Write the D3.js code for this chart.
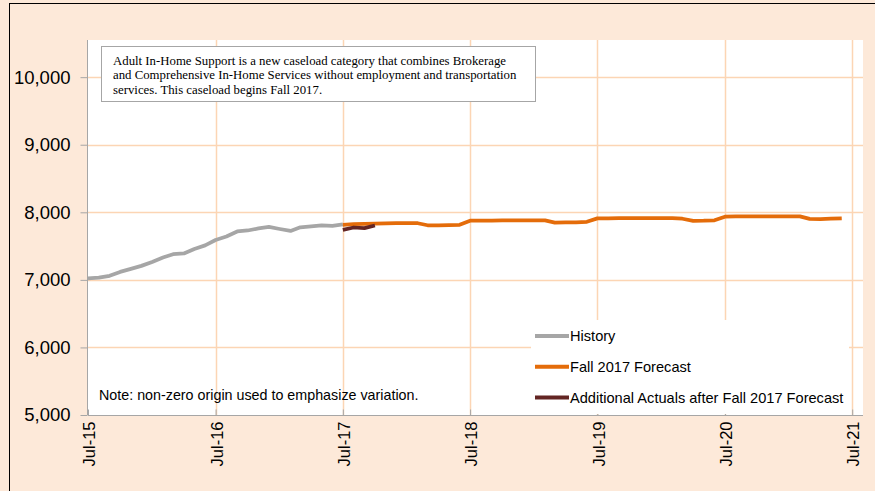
<!DOCTYPE html>
<html>
<head>
<meta charset="utf-8">
<script src="https://cdnjs.cloudflare.com/ajax/libs/d3/7.8.5/d3.min.js"></script>
<style>
  body { margin: 0; background: #fde9d9; }
  svg { display: block; }
</style>
</head>
<body>
<div id="chart"></div>
<script>
// monthly caseload values
var historyStart = new Date(2015, 6, 1);
var historyValues = [7022, 7032, 7060, 7118, 7162, 7207, 7266, 7332, 7380, 7391, 7458, 7510,
  7590, 7642, 7716, 7731, 7761, 7783, 7753, 7724, 7778, 7790, 7805, 7798, 7820];

var forecastStart = new Date(2017, 6, 1);
var forecastValues = [
  7815, 7825, 7830, 7832, 7835, 7838, 7840, 7838, 7808, 7808, 7810, 7815,
  7875, 7878, 7878, 7880, 7880, 7882, 7882, 7880, 7848, 7850, 7852, 7860,
  7910, 7910, 7912, 7912, 7914, 7914, 7914, 7914, 7905, 7872, 7875, 7882,
  7935, 7938, 7938, 7940, 7940, 7940, 7940, 7940, 7902, 7900, 7905, 7910];

var actualsStart = new Date(2017, 6, 1);
var actualsValues = [7740, 7775, 7765, 7805];

var yTicks = [5000, 6000, 7000, 8000, 9000, 10000];
var xTickYears = [2015, 2016, 2017, 2018, 2019, 2020, 2021];

var seriesNames = ["History", "Fall 2017 Forecast", "Additional Actuals after Fall 2017 Forecast"];
var seriesColors = ["#a6a6a6", "#e46c0a", "#632523"];

var noteLines = [
  "Adult In-Home Support is a new caseload category that combines Brokerage",
  "and Comprehensive In-Home Services without employment and transportation",
  "services. This caseload begins Fall 2017."
];
var originNote = "Note: non-zero origin used to emphasize variation.";

var width = 875, height = 491;
var sans = "'Liberation Sans', Arial, sans-serif";

function toPoints(start, values) {
  return values.map(function (v, i) {
    return { date: new Date(start.getFullYear(), start.getMonth() + i, 1), value: v };
  });
}

var svg = d3.select("#chart").append("svg")
  .attr("width", width)
  .attr("height", height);

// outer frame
svg.append("rect")
  .attr("x", 9.5).attr("y", 3.5)
  .attr("width", 900).attr("height", 520)
  .attr("fill", "#fde9d9")
  .attr("stroke", "#000").attr("stroke-width", 1);

var x = d3.scaleTime()
  .domain([new Date(2015, 6, 1), new Date(2021, 7, 1)])
  .range([88, 863]);

var y = d3.scaleLinear()
  .domain([5000, 10550])
  .range([415, 40]);

// plot area
svg.append("rect")
  .attr("x", x.range()[0] - 1)
  .attr("y", y.range()[1])
  .attr("width", x.range()[1] - x.range()[0] + 1)
  .attr("height", y.range()[0] - y.range()[1])
  .attr("fill", "#fff");

var gridColor = "#fcd5b4";

// gridlines
svg.append("g").selectAll("line")
  .data(yTicks.slice(1))
  .enter().append("line")
  .attr("x1", x.range()[0]).attr("x2", x.range()[1])
  .attr("y1", function (d) { return Math.round(y(d)) + 0.5; })
  .attr("y2", function (d) { return Math.round(y(d)) + 0.5; })
  .attr("stroke", gridColor).attr("stroke-width", 1.5);

svg.append("g").selectAll("line")
  .data(xTickYears.slice(1))
  .enter().append("line")
  .attr("x1", function (d) { return Math.round(x(new Date(d, 6, 1))) + 0.5; })
  .attr("x2", function (d) { return Math.round(x(new Date(d, 6, 1))) + 0.5; })
  .attr("y1", y.range()[1]).attr("y2", y.range()[0])
  .attr("stroke", gridColor).attr("stroke-width", 1.5);

// y axis
var yAxis = svg.append("g")
  .attr("transform", "translate(" + (x.range()[0] - 0.5) + ",0)")
  .call(d3.axisLeft(y).tickValues(yTicks).tickSize(7).tickPadding(10).tickFormat(d3.format(",")));
yAxis.select(".domain").attr("stroke", "#a6a6a6").attr("d", "M0," + y.range()[1] + "V" + y.range()[0]);
yAxis.selectAll(".tick line").attr("stroke", "#a6a6a6");
yAxis.selectAll(".tick text")
  .attr("fill", "#000")
  .style("font-family", sans)
  .style("font-size", "18.5px");

// x axis
var xAxis = svg.append("g")
  .attr("transform", "translate(0," + (y.range()[0] + 0.5) + ")")
  .call(d3.axisBottom(x)
    .tickValues(xTickYears.map(function (yr) { return new Date(yr, 6, 1); }))
    .tickSize(-6)
    .tickFormat(d3.timeFormat("%b-%y")));
xAxis.select(".domain").attr("stroke", "#a6a6a6").attr("d", "M" + x.range()[0] + ",0H" + x.range()[1]);
xAxis.selectAll(".tick line").attr("stroke", "#a6a6a6");
xAxis.selectAll(".tick text")
  .attr("fill", "#000")
  .attr("text-anchor", "end")
  .attr("y", 0).attr("dy", "0.35em")
  .attr("transform", "translate(1,6) rotate(-90)")
  .style("font-family", sans)
  .style("font-size", "16.5px");

// legend background covering gridlines
svg.append("rect")
  .attr("x", 531).attr("y", 320)
  .attr("width", 318).attr("height", y.range()[0] - 320 - 1)
  .attr("fill", "#fff");

// lines
var line = d3.line()
  .x(function (d) { return x(d.date); })
  .y(function (d) { return y(d.value); });

var series = [
  toPoints(historyStart, historyValues),
  toPoints(forecastStart, forecastValues),
  toPoints(actualsStart, actualsValues)
];

svg.append("g").selectAll("path")
  .data(series)
  .enter().append("path")
  .attr("d", line)
  .attr("fill", "none")
  .attr("stroke", function (d, i) { return seriesColors[i]; })
  .attr("stroke-width", 3.75)
  .attr("stroke-linejoin", "round");

// legend
var legend = svg.append("g").selectAll("g")
  .data(seriesNames)
  .enter().append("g")
  .attr("transform", function (d, i) { return "translate(535," + (336 + i * 30.7) + ")"; });

legend.append("line")
  .attr("x1", 0).attr("x2", 34)
  .attr("stroke", function (d, i) { return seriesColors[i]; })
  .attr("stroke-width", 4);

legend.append("text")
  .attr("x", 35).attr("dy", "0.35em")
  .style("font-family", sans)
  .style("font-size", "14.6px")
  .text(function (d) { return d; });

// note box at top
svg.append("rect")
  .attr("x", 101.5).attr("y", 46.5)
  .attr("width", 434).attr("height", 55)
  .attr("fill", "#fff")
  .attr("stroke", "#a6a6a6");

svg.append("g").selectAll("text")
  .data(noteLines)
  .enter().append("text")
  .attr("x", 113)
  .attr("y", function (d, i) { return 64.5 + i * 14.6; })
  .style("font-family", "'Liberation Serif', 'Times New Roman', serif")
  .style("font-size", "12.8px")
  .text(function (d) { return d; });

svg.append("text")
  .attr("x", 99).attr("y", 399.5)
  .style("font-family", sans)
  .style("font-size", "14.3px")
  .text(originNote);
</script>
</body>
</html>
